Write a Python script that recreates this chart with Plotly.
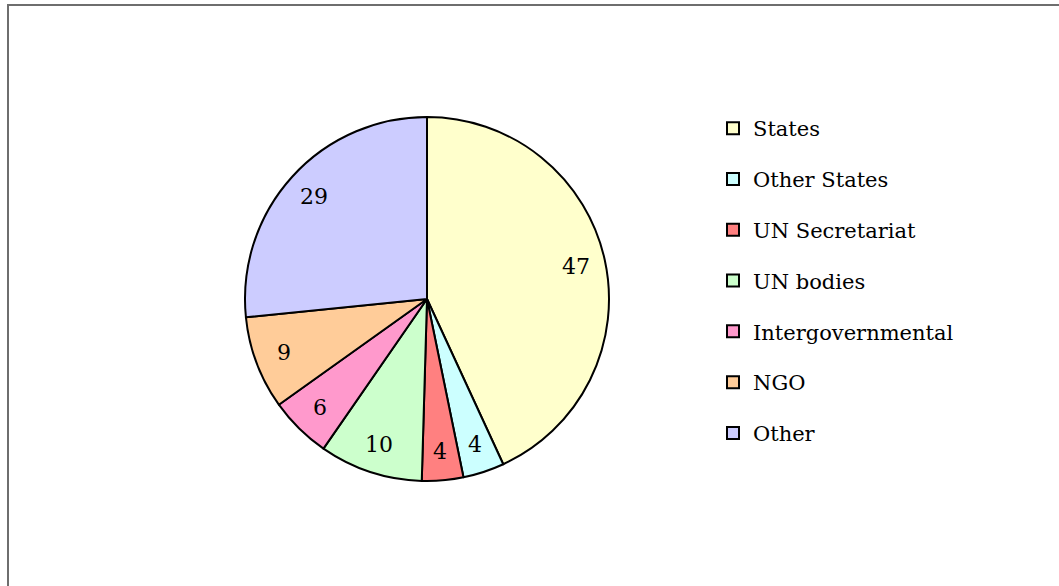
import math
import plotly.graph_objects as go

categories = ["States", "Other States", "UN Secretariat", "UN bodies",
              "Intergovernmental", "NGO", "Other"]
values = [47, 4, 4, 10, 6, 9, 29]
colors = ["#FFFFCC", "#CCFFFF", "#FF8080", "#CCFFCC", "#FF99CC", "#FFCC99", "#CCCCFF"]

FONT = "DejaVu Serif"
W, H = 1059, 586

# pie geometry (pixels)
CX, CY, R = 427, 299, 182
LABEL_R = 0.84 * R

fig = go.Figure()
fig.add_trace(go.Pie(
    labels=categories, values=values, sort=False, direction="clockwise",
    rotation=0, marker=dict(colors=colors, line=dict(color="black", width=2)),
    textinfo="none",
    domain=dict(x=[(CX - R) / W, (CX + R) / W], y=[1 - (CY + R) / H, 1 - (CY - R) / H]),
    showlegend=False, hoverinfo="label+value",
))

# value labels placed at slice mid-angles derived from the data
total = sum(values)
annotations = []
cum = 0
for v in values:
    mid = (cum + v / 2) / total * 2 * math.pi
    cum += v
    px = CX + LABEL_R * math.sin(mid)
    py = CY - LABEL_R * math.cos(mid)
    annotations.append(dict(x=px / W, y=1 - py / H, xref="paper", yref="paper",
                            xanchor="center", yanchor="middle",
                            text=str(v), showarrow=False,
                            font=dict(family=FONT, size=22, color="black")))

# legend entries (one per category)
for cat, col in zip(categories, colors):
    fig.add_trace(go.Scatter(
        x=[None], y=[None], mode="markers", name=cat, legendgroup=cat,
        marker=dict(symbol="square", size=12, color=col,
                    line=dict(color="black", width=2)),
        showlegend=True,
    ))

fig.update_layout(
    width=W, height=H,
    margin=dict(l=0, r=0, t=0, b=0),
    paper_bgcolor="white", plot_bgcolor="white",
    xaxis=dict(visible=False), yaxis=dict(visible=False),
    font=dict(family=FONT, size=21, color="black"),
    legend=dict(x=713 / W, y=1 - 108 / H, xanchor="left", yanchor="top",
                tracegroupgap=20.5, itemwidth=30, bgcolor="rgba(0,0,0,0)",
                font=dict(family=FONT, size=21, color="black")),
    annotations=annotations,
    shapes=[dict(type="rect", xref="paper", yref="paper",
                 x0=8 / W, x1=1.2, y0=-0.2, y1=1 - 5 / H,
                 line=dict(color="#6e6e6e", width=2), layer="above")],
)

fig.write_html("out.html", config={"displayModeBar": False},
               post_script="document.body.style.margin='0';")
